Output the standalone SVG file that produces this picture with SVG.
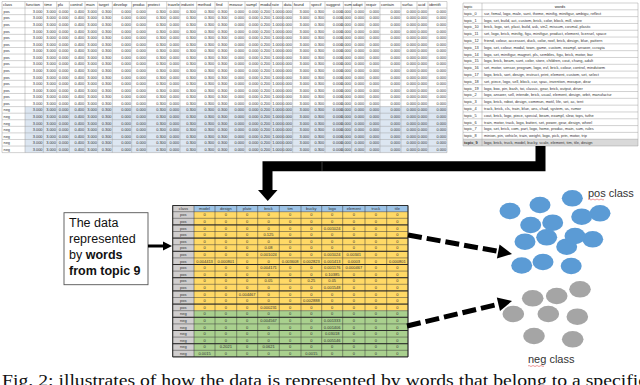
<svg xmlns="http://www.w3.org/2000/svg" width="640" height="385" viewBox="0 0 640 385">
<style>
.tv{font-family:"Liberation Sans",Arial,sans-serif;font-size:3.9px;fill:#333}
.th{font-family:"Liberation Sans",Arial,sans-serif;font-size:4px;fill:#222}
.e{text-anchor:end}
.m{text-anchor:middle}
.b{font-weight:bold}
.g1{stroke:#9a9a9a;stroke-width:0.45;fill:none}
.g2{stroke:#3a3a3a;stroke-width:0.5;fill:none}
.mv{font-family:"Liberation Sans",Arial,sans-serif;font-size:4px;fill:#333;text-anchor:middle}
.lbl{font-family:"Liberation Sans",Arial,sans-serif;font-size:11px;fill:#333}
.box{font-family:"Liberation Sans",Arial,sans-serif;font-size:12.5px;fill:#111}
.dash{stroke:#000;stroke-width:5;stroke-dasharray:14 5;fill:none}
.ci{fill:#5b9bd5}
.cg{fill:#a5a5a5}
</style>
<defs>
<g id="tlv" class="tv"><text><tspan class="e" x="42.5">3.000</tspan><tspan class="e" x="55.9">3.000</tspan><tspan class="e" x="68.5">0.000</tspan><tspan class="e" x="84.2">0.400</tspan><tspan class="e" x="96.9">3.000</tspan><tspan class="e" x="111.5">0.300</tspan><tspan class="e" x="130.9">0.000</tspan><tspan class="e" x="145.9">0.000</tspan><tspan class="e" x="165.9">0.300</tspan><tspan class="e" x="179.2">0.000</tspan><tspan class="e" x="195.9">0.300</tspan><tspan class="e" x="214.2">0.300</tspan><tspan class="e" x="227.5">0.300</tspan><tspan class="e" x="244.2">0.000</tspan><tspan class="e" x="258.5">0.000</tspan><tspan class="e" x="270.2">0.200</tspan><tspan class="e" x="281.9">1.000</tspan><tspan class="e" x="291.9">0.000</tspan><tspan class="e" x="309.2">3.000</tspan><tspan class="e" x="324.2">0.300</tspan><tspan class="e" x="342.5">0.000</tspan><tspan class="e" x="350.9">0.000</tspan><tspan class="e" x="364.2">0.000</tspan><tspan class="e" x="379.2">0.000</tspan><tspan class="e" x="400.2">0.000</tspan><tspan class="e" x="416.2">0.000</tspan><tspan class="e" x="427.2">0.000</tspan><tspan class="e" x="446.2">0.000</tspan></text></g>
</defs>
<rect width="640" height="385" fill="#fff"/>

<g id="features-table">
<rect x="25" y="106.62" width="422" height="46" fill="#dce6f1"/>
<path class="g1" d="M2 1.5H447M2 8.07H447M2 14.64H447M2 21.21H447M2 27.78H447M2 34.35H447M2 40.92H447M2 47.49H447M2 54.06H447M2 60.63H447M2 67.2H447M2 73.77H447M2 80.34H447M2 86.91H447M2 93.48H447M2 100.05H447M2 106.62H447M2 113.19H447M2 119.76H447M2 126.33H447M2 132.9H447M2 139.47H447M2 146.04H447M2 152.61H447"/>
<path class="g1" d="M2 1.5V152.61M25 1.5V152.61M43.3 1.5V152.61M56.7 1.5V152.61M69.3 1.5V152.61M85 1.5V152.61M97.7 1.5V152.61M112.3 1.5V152.61M131.7 1.5V152.61M146.7 1.5V152.61M166.7 1.5V152.61M180 1.5V152.61M196.7 1.5V152.61M215 1.5V152.61M228.3 1.5V152.61M245 1.5V152.61M259.3 1.5V152.61M271 1.5V152.61M282.7 1.5V152.61M292.7 1.5V152.61M310 1.5V152.61M325 1.5V152.61M343.3 1.5V152.61M351.7 1.5V152.61M365 1.5V152.61M380 1.5V152.61M401 1.5V152.61M417 1.5V152.61M428 1.5V152.61M447 1.5V152.61"/>
<text class="th" y="6.3"><tspan x="3">class</tspan><tspan x="26">function</tspan><tspan x="44.3">time</tspan><tspan x="57.7">plu</tspan><tspan x="70.3">control</tspan><tspan x="86">main</tspan><tspan x="98.7">target</tspan><tspan x="113.3">develop</tspan><tspan x="132.7">produc</tspan><tspan x="147.7">protect</tspan><tspan x="167.7">travele</tspan><tspan x="181">industri</tspan><tspan x="197.7">method</tspan><tspan x="216">find</tspan><tspan x="229.3">measur</tspan><tspan x="246">sampl</tspan><tspan x="260.3">modul</tspan><tspan x="272">rate</tspan><tspan x="283.7">data</tspan><tspan x="293.7">found</tspan><tspan x="311">specif</tspan><tspan x="326">suggest</tspan><tspan x="344.3">sum</tspan><tspan x="352.7">adapt</tspan><tspan x="366">requir</tspan><tspan x="381">contain</tspan><tspan x="402">surfac</tspan><tspan x="418">acid</tspan><tspan x="429">identifi</tspan></text>
<text class="tv"><tspan x="3.5" y="12.87">pos</tspan><tspan x="3.5" y="19.44">pos</tspan><tspan x="3.5" y="26.01">pos</tspan><tspan x="3.5" y="32.58">pos</tspan><tspan x="3.5" y="39.15">pos</tspan><tspan x="3.5" y="45.72">pos</tspan><tspan x="3.5" y="52.29">pos</tspan><tspan x="3.5" y="58.86">pos</tspan><tspan x="3.5" y="65.43">pos</tspan><tspan x="3.5" y="72">pos</tspan><tspan x="3.5" y="78.57">pos</tspan><tspan x="3.5" y="85.14">pos</tspan><tspan x="3.5" y="91.71">pos</tspan><tspan x="3.5" y="98.28">pos</tspan><tspan x="3.5" y="104.85">pos</tspan><tspan x="3.5" y="111.42">neg</tspan><tspan x="3.5" y="117.99">neg</tspan><tspan x="3.5" y="124.56">neg</tspan><tspan x="3.5" y="131.13">neg</tspan><tspan x="3.5" y="137.7">neg</tspan><tspan x="3.5" y="144.27">neg</tspan><tspan x="3.5" y="150.84">neg</tspan></text>
<use href="#tlv" y="12.87"/><use href="#tlv" y="19.44"/><use href="#tlv" y="26.01"/><use href="#tlv" y="32.58"/><use href="#tlv" y="39.15"/><use href="#tlv" y="45.72"/><use href="#tlv" y="52.29"/><use href="#tlv" y="58.86"/><use href="#tlv" y="65.43"/><use href="#tlv" y="72"/><use href="#tlv" y="78.57"/><use href="#tlv" y="85.14"/><use href="#tlv" y="91.71"/><use href="#tlv" y="98.28"/><use href="#tlv" y="104.85"/><use href="#tlv" y="111.42"/><use href="#tlv" y="117.99"/><use href="#tlv" y="124.56"/><use href="#tlv" y="131.13"/><use href="#tlv" y="137.7"/><use href="#tlv" y="144.27"/><use href="#tlv" y="150.84"/>
</g>

<g id="topics-table">
<rect x="463" y="139.2" width="175" height="6.81" fill="#d9d9d9"/>
<path class="g1" d="M463 3H638M463 9.81H638M463 16.62H638M463 23.43H638M463 30.24H638M463 37.05H638M463 43.86H638M463 50.67H638M463 57.48H638M463 64.29H638M463 71.1H638M463 77.91H638M463 84.72H638M463 91.53H638M463 98.34H638M463 105.15H638M463 111.96H638M463 118.77H638M463 125.58H638M463 132.39H638M463 139.2H638M463 146.01H638M463 3V146.01M482 3V146.01M638 3V146.01"/>
<text class="th" y="7.9"><tspan x="464">topic</tspan><tspan x="560" class="m">words</tspan></text>
<text class="tv">
<tspan x="464" y="14.71">topic_0</tspan><tspan x="484" y="14.71">sur, femal, logo, male, sunt, theme, minifig, minifigur, ambigu, reflect</tspan>
<tspan x="464" y="21.52">topic_1</tspan><tspan x="484" y="21.52">logo, set, build, act, custom, brick, color, block, mill, store</tspan>
<tspan x="464" y="28.33">topic_10</tspan><tspan x="484" y="28.33">brick, logo, set, plast, build, ask, vin2, missum, cosmal, plastic</tspan>
<tspan x="464" y="35.14">topic_11</tspan><tspan x="484" y="35.14">set, logo, brick, minifig, figu, minifigur, product, element, licensel, space</tspan>
<tspan x="464" y="41.95">topic_12</tspan><tspan x="484" y="41.95">friend, colour, accessori, duck, color, roof, brick, design, blue, pattern</tspan>
<tspan x="464" y="48.76">topic_13</tspan><tspan x="484" y="48.76">logo, set, colour, modal, town, game, custom, exampl, answer, ccrayia</tspan>
<tspan x="464" y="55.57">topic_14</tspan><tspan x="484" y="55.57">logo, set, minifigur, magnet, pls, sembles, figu, brick, motor, bar</tspan>
<tspan x="464" y="62.38">topic_15</tspan><tspan x="484" y="62.38">logo, brick, beam, sunt, color, store, children, cout, chang, adult</tspan>
<tspan x="464" y="69.19">topic_16</tspan><tspan x="484" y="69.19">set, motor, sensor, program, logo, evl, brick, colour, control, mindstorm</tspan>
<tspan x="464" y="76">topic_17</tspan><tspan x="484" y="76">logo, brick, sort, design, instruct, print, element, custom, set, select</tspan>
<tspan x="464" y="82.81">topic_18</tspan><tspan x="484" y="82.81">set, piece, logo, sell, block, car, spac, invention, mosque, dear</tspan>
<tspan x="464" y="89.62">topic_19</tspan><tspan x="484" y="89.62">logo, box, pin, bash, toi, classic, gear, brick, output, driver</tspan>
<tspan x="464" y="96.43">topic_2</tspan><tspan x="484" y="96.43">logo, answer, sell, intende, brick, usual, element, design, orbit, manufactur</tspan>
<tspan x="464" y="103.24">topic_3</tspan><tspan x="484" y="103.24">logo, brick, robot, design, commun, motil, life, set, ac, tent</tspan>
<tspan x="464" y="110.05">topic_4</tspan><tspan x="484" y="110.05">track, brick, cls, train, blue, ans, chad, system, us, rumor</tspan>
<tspan x="464" y="116.86">topic_5</tspan><tspan x="484" y="116.86">cout, brick, logo, piece, special, beam, exampl, slew, tops, tuthe</tspan>
<tspan x="464" y="123.67">topic_6</tspan><tspan x="484" y="123.67">train, motor, track, logo, batteri, set, power, gear, design, wheel</tspan>
<tspan x="464" y="130.48">topic_7</tspan><tspan x="484" y="130.48">logo, set, brick, com, part, logo, home, produc, main, sum, rules</tspan>
<tspan x="464" y="137.29">topic_8</tspan><tspan x="484" y="137.29">minion, pin, vehicle, train, weight, logo, pick, prin, motor, trip</tspan>
<tspan x="464" y="144.1" class="b">topic_9</tspan><tspan x="484" y="144.1">logo, brick, truck, model, bucky, scale, element, tim, tile, design</tspan>
</text>
</g>

<g id="topic9-table">
<rect x="172.7" y="211.7" width="235.3" height="99" fill="#ffd966"/>
<rect x="172.7" y="310.7" width="235.3" height="46.2" fill="#a9d08e"/>
<rect x="172.7" y="205.5" width="235.3" height="6.2" fill="#9dc3e6"/>
<rect x="172.7" y="205.5" width="21.3" height="151.4" fill="#d0cece"/>
<path class="g2" d="M172.7 205.5H408M172.7 211.7H408M172.7 218.3H408M172.7 224.9H408M172.7 231.5H408M172.7 238.1H408M172.7 244.7H408M172.7 251.3H408M172.7 257.9H408M172.7 264.5H408M172.7 271.1H408M172.7 277.7H408M172.7 284.3H408M172.7 290.9H408M172.7 297.5H408M172.7 304.1H408M172.7 310.7H408M172.7 317.3H408M172.7 323.9H408M172.7 330.5H408M172.7 337.1H408M172.7 343.7H408M172.7 350.3H408M172.7 356.9H408"/>
<path class="g2" d="M172.7 205.5V356.9M194 205.5V356.9M215 205.5V356.9M236.7 205.5V356.9M257.7 205.5V356.9M279.3 205.5V356.9M301 205.5V356.9M321.7 205.5V356.9M342.7 205.5V356.9M365 205.5V356.9M386.7 205.5V356.9M408 205.5V356.9"/>
<path stroke="#222" stroke-width="0.9" fill="none" d="M172.7 205.5H408V356.9H172.7ZM172.7 224.9H408M172.7 238.1H408M172.7 251.3H408M172.7 264.5H408M172.7 277.7H408M172.7 290.9H408M172.7 304.1H408M172.7 317.3H408M172.7 330.5H408M172.7 343.7H408"/>
<text class="mv" y="209.9"><tspan x="183.35">class</tspan><tspan x="204.5">model</tspan><tspan x="225.85">design</tspan><tspan x="247.2">plate</tspan><tspan x="268.5">brick</tspan><tspan x="290.15">tim</tspan><tspan x="311.35">bucky</tspan><tspan x="332.2">logo</tspan><tspan x="353.85">element</tspan><tspan x="375.85">truck</tspan><tspan x="397.35">tile</tspan></text>
<text class="mv"><tspan x="183.35" y="216.4">pos</tspan><tspan x="183.35" y="223">pos</tspan><tspan x="183.35" y="229.6">pos</tspan><tspan x="183.35" y="236.2">pos</tspan><tspan x="183.35" y="242.8">pos</tspan><tspan x="183.35" y="249.4">pos</tspan><tspan x="183.35" y="256">pos</tspan><tspan x="183.35" y="262.6">pos</tspan><tspan x="183.35" y="269.2">pos</tspan><tspan x="183.35" y="275.8">pos</tspan><tspan x="183.35" y="282.4">pos</tspan><tspan x="183.35" y="289">pos</tspan><tspan x="183.35" y="295.6">pos</tspan><tspan x="183.35" y="302.2">pos</tspan><tspan x="183.35" y="308.8">pos</tspan><tspan x="183.35" y="315.4">neg</tspan><tspan x="183.35" y="322">neg</tspan><tspan x="183.35" y="328.6">neg</tspan><tspan x="183.35" y="335.2">neg</tspan><tspan x="183.35" y="341.8">neg</tspan><tspan x="183.35" y="348.4">neg</tspan><tspan x="183.35" y="355">neg</tspan></text>
<text class="mv" y="216.4"><tspan x="204.5">0</tspan><tspan x="225.85">0</tspan><tspan x="247.2">0</tspan><tspan x="268.5">0</tspan><tspan x="290.15">0</tspan><tspan x="311.35">0</tspan><tspan x="332.2">0</tspan><tspan x="353.85">0</tspan><tspan x="375.85">0</tspan><tspan x="397.35">0</tspan></text>
<text class="mv" y="223"><tspan x="204.5">0</tspan><tspan x="225.85">0</tspan><tspan x="247.2">0</tspan><tspan x="268.5">0</tspan><tspan x="290.15">0</tspan><tspan x="311.35">0</tspan><tspan x="332.2">0</tspan><tspan x="353.85">0</tspan><tspan x="375.85">0</tspan><tspan x="397.35">0</tspan></text>
<text class="mv" y="229.6"><tspan x="204.5">0</tspan><tspan x="225.85">0</tspan><tspan x="247.2">0</tspan><tspan x="268.5">0</tspan><tspan x="290.15">0</tspan><tspan x="311.35">0</tspan><tspan x="332.2">0.001024</tspan><tspan x="353.85">0</tspan><tspan x="375.85">0</tspan><tspan x="397.35">0</tspan></text>
<text class="mv" y="236.2"><tspan x="204.5">0</tspan><tspan x="225.85">0</tspan><tspan x="247.2">0</tspan><tspan x="268.5">0.125</tspan><tspan x="290.15">0</tspan><tspan x="311.35">0</tspan><tspan x="332.2">0</tspan><tspan x="353.85">0</tspan><tspan x="375.85">0</tspan><tspan x="397.35">0</tspan></text>
<text class="mv" y="242.8"><tspan x="204.5">0</tspan><tspan x="225.85">0</tspan><tspan x="247.2">0</tspan><tspan x="268.5">0</tspan><tspan x="290.15">0</tspan><tspan x="311.35">0</tspan><tspan x="332.2">0</tspan><tspan x="353.85">0</tspan><tspan x="375.85">0</tspan><tspan x="397.35">0</tspan></text>
<text class="mv" y="249.4"><tspan x="204.5">0</tspan><tspan x="225.85">0</tspan><tspan x="247.2">0</tspan><tspan x="268.5">0.08</tspan><tspan x="290.15">0</tspan><tspan x="311.35">0</tspan><tspan x="332.2">0</tspan><tspan x="353.85">0</tspan><tspan x="375.85">0</tspan><tspan x="397.35">0</tspan></text>
<text class="mv" y="256"><tspan x="204.5">0</tspan><tspan x="225.85">0</tspan><tspan x="247.2">0</tspan><tspan x="268.5">0.001024</tspan><tspan x="290.15">0</tspan><tspan x="311.35">0</tspan><tspan x="332.2">0.001024</tspan><tspan x="353.85">0.00341</tspan><tspan x="375.85">0</tspan><tspan x="397.35">0</tspan></text>
<text class="mv" y="262.6"><tspan x="204.5">0.004413</tspan><tspan x="225.85">0.000801</tspan><tspan x="247.2">0</tspan><tspan x="268.5">0</tspan><tspan x="290.15">0.003608</tspan><tspan x="311.35">0.002823</tspan><tspan x="332.2">0.001413</tspan><tspan x="353.85">0.0003</tspan><tspan x="375.85">0</tspan><tspan x="397.35">0.000801</tspan></text>
<text class="mv" y="269.2"><tspan x="204.5">0</tspan><tspan x="225.85">0</tspan><tspan x="247.2">0</tspan><tspan x="268.5">0.004171</tspan><tspan x="290.15">0</tspan><tspan x="311.35">0</tspan><tspan x="332.2">0.001176</tspan><tspan x="353.85">0.000467</tspan><tspan x="375.85">0</tspan><tspan x="397.35">0</tspan></text>
<text class="mv" y="275.8"><tspan x="204.5">0</tspan><tspan x="225.85">0</tspan><tspan x="247.2">0</tspan><tspan x="268.5">0</tspan><tspan x="290.15">0</tspan><tspan x="311.35">0</tspan><tspan x="332.2">0.10385</tspan><tspan x="353.85">0</tspan><tspan x="375.85">0</tspan><tspan x="397.35">0</tspan></text>
<text class="mv" y="282.4"><tspan x="204.5">0</tspan><tspan x="225.85">0</tspan><tspan x="247.2">0</tspan><tspan x="268.5">0.05</tspan><tspan x="290.15">0</tspan><tspan x="311.35">0.25</tspan><tspan x="332.2">0.05</tspan><tspan x="353.85">0</tspan><tspan x="375.85">0</tspan><tspan x="397.35">0</tspan></text>
<text class="mv" y="289"><tspan x="204.5">0</tspan><tspan x="225.85">0</tspan><tspan x="247.2">0</tspan><tspan x="268.5">0</tspan><tspan x="290.15">0</tspan><tspan x="311.35">0</tspan><tspan x="332.2">0.001548</tspan><tspan x="353.85">0</tspan><tspan x="375.85">0</tspan><tspan x="397.35">0</tspan></text>
<text class="mv" y="295.6"><tspan x="204.5">0</tspan><tspan x="225.85">0</tspan><tspan x="247.2">0.004467</tspan><tspan x="268.5">0</tspan><tspan x="290.15">0</tspan><tspan x="311.35">0</tspan><tspan x="332.2">0</tspan><tspan x="353.85">0</tspan><tspan x="375.85">0</tspan><tspan x="397.35">0</tspan></text>
<text class="mv" y="302.2"><tspan x="204.5">0</tspan><tspan x="225.85">0</tspan><tspan x="247.2">0</tspan><tspan x="268.5">0</tspan><tspan x="290.15">0</tspan><tspan x="311.35">0.002888</tspan><tspan x="332.2">0</tspan><tspan x="353.85">0</tspan><tspan x="375.85">0</tspan><tspan x="397.35">0</tspan></text>
<text class="mv" y="308.8"><tspan x="204.5">0</tspan><tspan x="225.85">0</tspan><tspan x="247.2">0</tspan><tspan x="268.5">0.000231</tspan><tspan x="290.15">0</tspan><tspan x="311.35">0</tspan><tspan x="332.2">0</tspan><tspan x="353.85">0</tspan><tspan x="375.85">0</tspan><tspan x="397.35">0</tspan></text>
<text class="mv" y="315.4"><tspan x="204.5">0</tspan><tspan x="225.85">0</tspan><tspan x="247.2">0</tspan><tspan x="268.5">0</tspan><tspan x="290.15">0</tspan><tspan x="311.35">0</tspan><tspan x="332.2">0</tspan><tspan x="353.85">0</tspan><tspan x="375.85">0</tspan><tspan x="397.35">0</tspan></text>
<text class="mv" y="322"><tspan x="204.5">0</tspan><tspan x="225.85">0</tspan><tspan x="247.2">0</tspan><tspan x="268.5">0.004567</tspan><tspan x="290.15">0</tspan><tspan x="311.35">0</tspan><tspan x="332.2">0.001333</tspan><tspan x="353.85">0</tspan><tspan x="375.85">0</tspan><tspan x="397.35">0</tspan></text>
<text class="mv" y="328.6"><tspan x="204.5">0</tspan><tspan x="225.85">0</tspan><tspan x="247.2">0</tspan><tspan x="268.5">0</tspan><tspan x="290.15">0</tspan><tspan x="311.35">0</tspan><tspan x="332.2">0.001406</tspan><tspan x="353.85">0</tspan><tspan x="375.85">0</tspan><tspan x="397.35">0</tspan></text>
<text class="mv" y="335.2"><tspan x="204.5">0</tspan><tspan x="225.85">0</tspan><tspan x="247.2">0</tspan><tspan x="268.5">0</tspan><tspan x="290.15">0</tspan><tspan x="311.35">0</tspan><tspan x="332.2">0.03018</tspan><tspan x="353.85">0</tspan><tspan x="375.85">0</tspan><tspan x="397.35">0</tspan></text>
<text class="mv" y="341.8"><tspan x="204.5">0</tspan><tspan x="225.85">0</tspan><tspan x="247.2">0</tspan><tspan x="268.5">0</tspan><tspan x="290.15">0</tspan><tspan x="311.35">0</tspan><tspan x="332.2">0.005146</tspan><tspan x="353.85">0</tspan><tspan x="375.85">0</tspan><tspan x="397.35">0</tspan></text>
<text class="mv" y="348.4"><tspan x="204.5">0</tspan><tspan x="225.85">0.2021</tspan><tspan x="247.2">0</tspan><tspan x="268.5">0.0621</tspan><tspan x="290.15">0</tspan><tspan x="311.35">0</tspan><tspan x="332.2">0</tspan><tspan x="353.85">0</tspan><tspan x="375.85">0</tspan><tspan x="397.35">0</tspan></text>
<text class="mv" y="355"><tspan x="204.5">0.0015</tspan><tspan x="225.85">0</tspan><tspan x="247.2">0</tspan><tspan x="268.5">0</tspan><tspan x="290.15">0</tspan><tspan x="311.35">0.0015</tspan><tspan x="332.2">0</tspan><tspan x="353.85">0</tspan><tspan x="375.85">0</tspan><tspan x="397.35">0</tspan></text>
</g>

<g id="note-box">
<rect x="64" y="212.7" width="84" height="72" fill="#fff" stroke="#555" stroke-width="0.9"/>
<text class="box" x="69"><tspan x="69" y="227">The data</tspan><tspan x="69" y="243">represented</tspan><tspan x="69" y="259">by <tspan class="b">words</tspan></tspan><tspan x="69" y="275" class="b">from topic 9</tspan></text>
</g>

<g id="pos-class">
<ellipse class="ci" cx="510" cy="211" rx="10.5" ry="8.3"/>
<ellipse class="ci" cx="540" cy="205" rx="10.5" ry="8.3"/>
<ellipse class="ci" cx="572.3" cy="198.3" rx="10.5" ry="8.3"/>
<ellipse class="ci" cx="600" cy="213.3" rx="10.5" ry="8.3"/>
<ellipse class="ci" cx="581.7" cy="216.7" rx="10.5" ry="8.3"/>
<ellipse class="ci" cx="530.7" cy="225" rx="10.5" ry="8.3"/>
<ellipse class="ci" cx="552.7" cy="222.7" rx="10.5" ry="8.3"/>
<ellipse class="ci" cx="525" cy="241.7" rx="10.5" ry="8.3"/>
<ellipse class="ci" cx="546.7" cy="237.3" rx="10.5" ry="8.3"/>
<ellipse class="ci" cx="592.7" cy="239.3" rx="10.5" ry="8.3"/>
<ellipse class="ci" cx="566.7" cy="246.7" rx="10.5" ry="8.3"/>
<ellipse class="ci" cx="575" cy="236" rx="10.5" ry="8.3"/>
<ellipse class="ci" cx="521.7" cy="265.5" rx="10.5" ry="8.3"/>
<ellipse class="ci" cx="543" cy="262" rx="10.5" ry="8.3"/>
<ellipse class="ci" cx="571.2" cy="266" rx="10.5" ry="8.3"/>
<text class="lbl" x="588" y="197">pos class</text>
<path d="M588 199.5q1-1 2 0t2 0t2 0t2 0t2 0t2 0t2 0t2 0" stroke="#e05555" stroke-width="0.6" fill="none"/>
</g>

<g id="neg-class">
<ellipse class="cg" cx="532.7" cy="298.3" rx="10.8" ry="8.3"/>
<ellipse class="cg" cx="556.7" cy="296" rx="10.8" ry="8.3"/>
<ellipse class="cg" cx="580" cy="289.3" rx="10.8" ry="8.3"/>
<ellipse class="cg" cx="513.3" cy="314" rx="10.8" ry="8.3"/>
<ellipse class="cg" cx="548.3" cy="314" rx="10.8" ry="8.3"/>
<ellipse class="cg" cx="577.3" cy="316.7" rx="10.8" ry="8.3"/>
<ellipse class="cg" cx="534" cy="336" rx="10.8" ry="8.3"/>
<ellipse class="cg" cx="572.7" cy="339.3" rx="10.8" ry="8.3"/>
<text class="lbl" x="528" y="363">neg class</text>
<path d="M528 366q1-1 2 0t2 0t2 0t2 0t2 0t2 0t2 0t2 0" stroke="#e05555" stroke-width="0.6" fill="none"/>
</g>

<g id="connectors">
<polyline points="540.5,146 540.5,166.3 267.5,166.3 267.5,191" fill="none" stroke="#000" stroke-width="10" stroke-linejoin="miter"/>
<line x1="322" y1="161.8" x2="322" y2="170.8" stroke="#777" stroke-width="0.5"/>
<polygon points="258,190 277.5,190 267.75,201" fill="#000"/>
<line x1="148" y1="246" x2="164" y2="246" stroke="#000" stroke-width="3"/>
<polygon points="163,241.5 172,246 163,250.5" fill="#000"/>
<line class="dash" x1="408" y1="235" x2="499" y2="251.5"/>
<polygon points="512,254 496.9,258.4 499.5,244.6" fill="#000"/>
<line class="dash" x1="407" y1="326" x2="498.4" y2="304.2"/>
<polygon points="512,301 500,311 496.8,297.4" fill="#000"/>
</g>

<text x="2" y="386" font-family="'Liberation Serif','Times New Roman',serif" font-size="17" fill="#111" textLength="645" lengthAdjust="spacingAndGlyphs">Fig. 2: illustrates of how the data is represented by words that belong to a specific</text>
</svg>
